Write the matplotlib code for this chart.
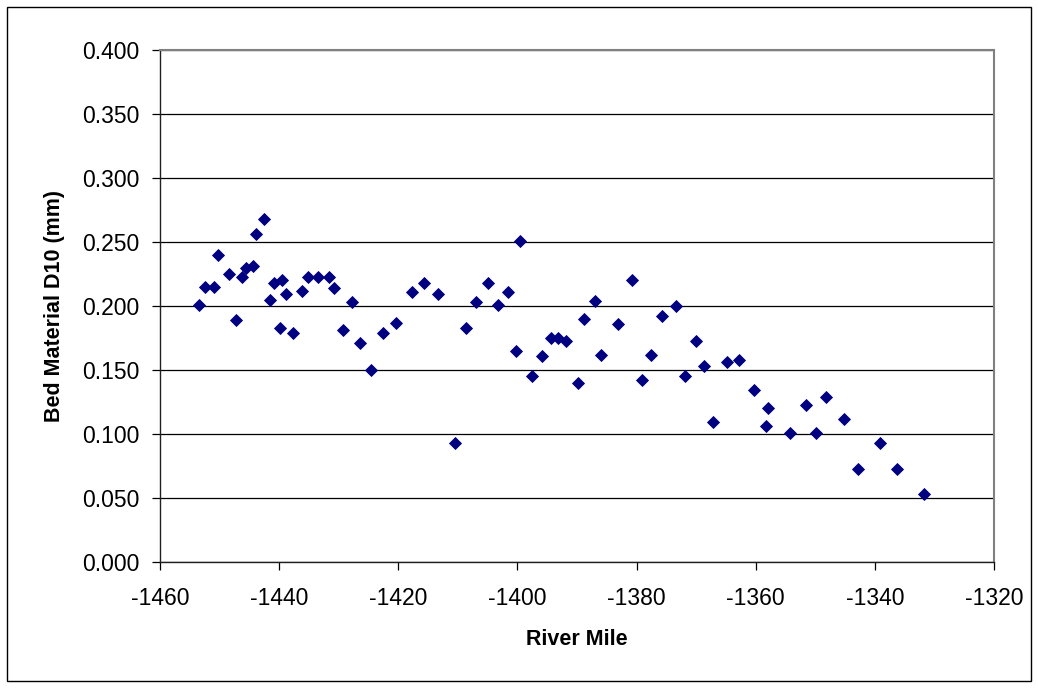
import matplotlib
matplotlib.use("Agg")
import matplotlib.pyplot as plt
from matplotlib.patches import Rectangle
from matplotlib.ticker import FormatStrFormatter, MultipleLocator

plt.rcParams['font.family'] = ['Liberation Sans', 'DejaVu Sans']
plt.rcParams['axes.unicode_minus'] = False

# river mile of each sample
river_mile = [
    -1453.4, -1452.4, -1450.9, -1450.3, -1448.4, -1447.2, -1446.3, -1445.6,
    -1444.4, -1443.9, -1442.5, -1441.6, -1440.9, -1439.5, -1439.9, -1438.8,
    -1437.6, -1436.2, -1435.2, -1433.5, -1431.7, -1430.8, -1429.2, -1427.8,
    -1426.5, -1424.5, -1422.5, -1420.4, -1417.7, -1415.7, -1413.4, -1410.4,
    -1408.7, -1407.0, -1404.9, -1403.3, -1401.6, -1400.3, -1399.6, -1397.6,
    -1395.9, -1394.4, -1393.2, -1391.8, -1389.9, -1388.9, -1386.9, -1385.9,
    -1383.1, -1380.8, -1379.1, -1377.5, -1375.8, -1373.4, -1371.8, -1370.1,
    -1368.7, -1367.1, -1364.8, -1362.8, -1360.3, -1358.3, -1358.0, -1354.3,
    -1351.6, -1349.9, -1348.2, -1345.2, -1342.8, -1339.2, -1336.2, -1331.8,
]

# bed material D10 (mm)
d10 = [
    0.201, 0.215, 0.215, 0.240, 0.225, 0.189, 0.223, 0.230,
    0.231, 0.256, 0.268, 0.205, 0.218, 0.220, 0.183, 0.209,
    0.179, 0.212, 0.223, 0.223, 0.223, 0.214, 0.181, 0.203,
    0.171, 0.150, 0.179, 0.187, 0.211, 0.218, 0.209, 0.093,
    0.183, 0.203, 0.218, 0.201, 0.211, 0.165, 0.251, 0.145,
    0.161, 0.175, 0.175, 0.173, 0.140, 0.190, 0.204, 0.162,
    0.186, 0.220, 0.142, 0.162, 0.192, 0.200, 0.145, 0.173,
    0.153, 0.109, 0.156, 0.158, 0.134, 0.106, 0.120, 0.101,
    0.123, 0.101, 0.129, 0.112, 0.073, 0.093, 0.073, 0.053,
]

W, H = 1038, 688
fig = plt.figure(figsize=(W / 100, H / 100), dpi=100)
ax = fig.add_axes([160 / W, 1 - 562 / H, (994 - 160) / W, (562 - 50) / H])

ax.plot(river_mile, d10, linestyle='none', marker='D', markersize=6.4,
        color='#000080', markeredgewidth=0.6, zorder=3, clip_on=False)

ax.set_xlim(-1460, -1320)
ax.set_ylim(0, 0.4)
ax.xaxis.set_major_locator(MultipleLocator(20))
ax.yaxis.set_major_locator(MultipleLocator(0.05))
ax.yaxis.set_major_formatter(FormatStrFormatter('%.3f'))

ax.grid(axis='y', color='black', linewidth=0.9, zorder=0)
ax.set_axisbelow(True)

for side in ['left', 'bottom']:
    ax.spines[side].set_color('#202020')
    ax.spines[side].set_linewidth(1.0)
for side in ['top', 'right']:
    ax.spines[side].set_color('#808080')
    ax.spines[side].set_linewidth(1.5)

ax.tick_params(axis='both', direction='out', length=6, width=0.9,
               color='black', labelsize=16.5)
ax.tick_params(axis='y', pad=9)
ax.tick_params(axis='x', pad=12)

ax.set_xlabel('River Mile', fontsize=15.5, fontweight='bold', labelpad=14)
ax.set_ylabel('Bed Material D10 (mm)', fontsize=15.5, fontweight='bold',
              labelpad=12)

# outer chart border
fig.patches.append(Rectangle((7 / W, 7 / H), (1031 - 7) / W, (681 - 7) / H,
                             transform=fig.transFigure, fill=False,
                             edgecolor='black', linewidth=1.0))

fig.savefig('out.png', dpi=100)
